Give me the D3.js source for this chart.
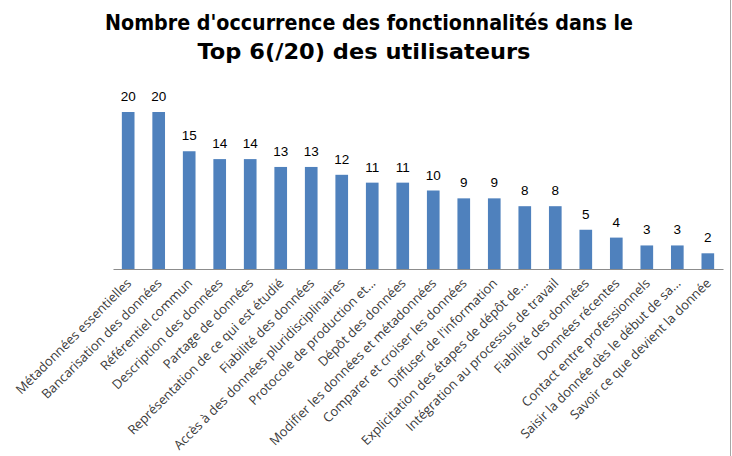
<!DOCTYPE html>
<html><head><meta charset="utf-8">
<script src="https://cdn.jsdelivr.net/npm/d3@7"></script>
<style>body{margin:0;background:#fff}svg{display:block}</style>
</head><body>
<script>
const categories = [
  "Métadonnées essentielles",
  "Bancarisation des données",
  "Référentiel commun",
  "Description des données",
  "Partage de données",
  "Représentation de ce qui est étudié",
  "Fiabilité des données",
  "Accès à des données pluridisciplinaires",
  "Protocole de production et...",
  "Dépôt des données",
  "Modifier les données et métadonnées",
  "Comparer et croiser les données",
  "Diffuser de l'information",
  "Explicitation des étapes de dépôt de...",
  "Intégration au processus de travail",
  "Fiabilité des données",
  "Données récentes",
  "Contact entre professionnels",
  "Saisir la donnée dès le début de sa...",
  "Savoir ce que devient la donnée"
];
const values = [20,20,15,14,14,13,13,12,11,11,10,9,9,8,8,5,4,3,3,2];
const titleLines = ["Nombre d'occurrence des fonctionnalités dans le", "Top 6(/20) des utilisateurs"];

const W = 732, H = 456;
const svg = d3.select("body").append("svg").attr("width", W).attr("height", H);
svg.append("rect").attr("width", W).attr("height", H).attr("fill", "#fff");
svg.append("line").attr("x1", 730.5).attr("x2", 730.5).attr("y1", 0).attr("y2", H)
  .attr("stroke", "#a6a6a6").attr("stroke-width", 1);

const x = d3.scaleBand().domain(d3.range(categories.length)).range([113, 723]).paddingInner(0.585).paddingOuter(0.29);
const y = d3.scaleLinear().domain([0, 20]).range([269, 112]);

// title
const title = svg.append("g");
title.append("text").attr("x", 369).attr("y", 30).attr("text-anchor", "middle")
  .attr("font-family", "DejaVu Sans").attr("font-weight", "bold").attr("font-size", 22)
  .attr("textLength", 528).attr("lengthAdjust", "spacingAndGlyphs").attr("fill", "#000")
  .text(titleLines[0]);
title.append("text").attr("x", 364).attr("y", 59).attr("text-anchor", "middle")
  .attr("font-family", "DejaVu Sans").attr("font-weight", "bold").attr("font-size", 22)
  .attr("textLength", 333).attr("lengthAdjust", "spacingAndGlyphs").attr("fill", "#000")
  .text(titleLines[1]);

// bars
svg.append("g").selectAll("rect").data(values).join("rect")
  .attr("x", (d, i) => x(i)).attr("width", x.bandwidth())
  .attr("y", d => y(d)).attr("height", d => y(0) - y(d))
  .attr("fill", "#4f81bd");

// axis
const axis = d3.axisBottom(x).tickSize(0).tickFormat("");
const ag = svg.append("g").attr("transform", `translate(0,${y(0)})`).call(axis);
ag.select(".domain").attr("stroke", "#8c8c8c").attr("stroke-width", 1.2);

// value labels
svg.append("g").selectAll("text").data(values).join("text")
  .attr("x", (d, i) => x(i) + x.bandwidth() / 2).attr("y", d => y(d) - 11)
  .attr("text-anchor", "middle").attr("font-family", "'Liberation Sans', Arial, sans-serif")
  .attr("font-size", 13.5).attr("fill", "#000").text(d => d);

// category labels
svg.append("g").selectAll("text").data(categories).join("text")
  .attr("transform", (d, i) => `translate(${x(i) + x.bandwidth() / 2 + 4},${284}) rotate(-45)`)
  .attr("text-anchor", "end").attr("font-family", "'Open Sans', sans-serif")
  .attr("font-size", 13).attr("fill", "#3a3a3a").text(d => d);
</script>
</body></html>
